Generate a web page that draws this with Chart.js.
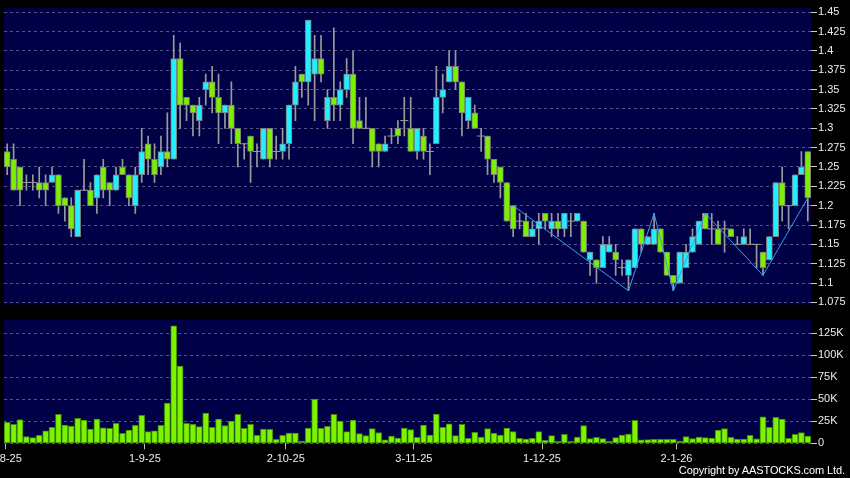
<!DOCTYPE html>
<html>
<head>
<meta charset="utf-8">
<script src="https://cdn.jsdelivr.net/npm/chart.js@4.4.1/dist/chart.umd.min.js"></script>
<style>
  html, body { margin: 0; padding: 0; background: #000; }
  #wrap { position: relative; width: 850px; height: 478px; overflow: hidden; background: #000; }
  #priceCanvas { position: absolute; left: 0; top: 0; }
  #volCanvas { position: absolute; left: -30px; top: 312px; }
  #copy { position: absolute; right: 5px; top: 464px; color: #fff; font: 11px "Liberation Sans", Arial, sans-serif; letter-spacing: -0.1px; white-space: nowrap; }
</style>
</head>
<body>
<div id="wrap">
  <canvas id="priceCanvas" width="850" height="312"></canvas>
  <canvas id="volCanvas" width="880" height="166"></canvas>
  <div id="copy">Copyright by AASTOCKS.com Ltd.</div>
</div>
<script>
// Trading days, Aug 2025 - Feb 2026
const dates = [
  '1-8-25','4-8-25','5-8-25','6-8-25','7-8-25','8-8-25','11-8-25','12-8-25','13-8-25','14-8-25','15-8-25',
  '18-8-25','19-8-25','20-8-25','21-8-25','22-8-25','25-8-25','26-8-25','27-8-25','28-8-25','29-8-25',
  '1-9-25','2-9-25','3-9-25','4-9-25','5-9-25','8-9-25','9-9-25','10-9-25','11-9-25','12-9-25','15-9-25',
  '16-9-25','17-9-25','18-9-25','19-9-25','22-9-25','23-9-25','24-9-25','25-9-25','26-9-25','29-9-25','30-9-25',
  '2-10-25','3-10-25','6-10-25','8-10-25','9-10-25','10-10-25','13-10-25','14-10-25','15-10-25','16-10-25',
  '17-10-25','20-10-25','21-10-25','22-10-25','23-10-25','24-10-25','27-10-25','28-10-25','30-10-25','31-10-25',
  '3-11-25','4-11-25','5-11-25','6-11-25','7-11-25','10-11-25','11-11-25','12-11-25','13-11-25','14-11-25',
  '17-11-25','18-11-25','19-11-25','20-11-25','21-11-25','24-11-25','25-11-25','26-11-25','27-11-25','28-11-25',
  '1-12-25','2-12-25','3-12-25','4-12-25','5-12-25','8-12-25','9-12-25','10-12-25','11-12-25','12-12-25',
  '15-12-25','16-12-25','17-12-25','18-12-25','19-12-25','22-12-25','23-12-25','24-12-25','29-12-25','30-12-25','31-12-25',
  '2-1-26','5-1-26','6-1-26','7-1-26','8-1-26','9-1-26','12-1-26','13-1-26','14-1-26','15-1-26','16-1-26',
  '19-1-26','20-1-26','21-1-26','22-1-26','23-1-26','26-1-26','27-1-26','28-1-26','29-1-26','30-1-26','2-2-26'
];

const open = [
  1.27,1.26,1.25,1.23,1.23,1.23,1.23,1.23,1.24,1.21,1.20,1.16,1.22,1.22,1.21,1.25,1.23,1.22,1.25,1.24,1.20,
  1.24,1.28,1.26,1.25,1.27,1.26,1.39,1.34,1.33,1.31,1.35,1.36,1.34,1.32,1.33,1.30,1.28,1.29,1.27,1.26,1.30,1.27,
  1.27,1.28,1.33,1.37,1.36,1.37,1.39,1.31,1.34,1.33,1.35,1.37,1.31,1.30,1.30,1.28,1.27,1.29,1.30,1.31,
  1.30,1.27,1.29,1.27,1.28,1.34,1.36,1.38,1.36,1.31,1.32,1.29,1.29,1.26,1.25,1.23,1.20,1.18,1.18,1.16,1.17,
  1.19,1.17,1.18,1.17,1.18,1.18,1.18,1.13,1.13,1.12,1.14,1.14,1.12,1.11,1.12,1.17,1.15,1.15,1.17,1.14,1.11,
  1.10,1.12,1.14,1.15,1.19,1.17,1.17,1.17,1.17,1.15,1.15,1.15,1.15,1.14,1.13,1.16,1.23,1.20,1.20,1.24,1.27
];
const high = [
  1.28,1.28,1.25,1.24,1.24,1.25,1.24,1.25,1.24,1.21,1.21,1.22,1.26,1.23,1.24,1.26,1.23,1.25,1.26,1.24,1.25,
  1.30,1.29,1.28,1.29,1.32,1.42,1.41,1.34,1.33,1.34,1.37,1.38,1.37,1.33,1.36,1.30,1.28,1.29,1.28,1.30,1.30,1.29,
  1.30,1.33,1.38,1.37,1.44,1.42,1.42,1.35,1.43,1.36,1.39,1.40,1.34,1.34,1.30,1.28,1.29,1.30,1.31,1.34,
  1.34,1.30,1.30,1.28,1.38,1.37,1.40,1.40,1.36,1.34,1.33,1.30,1.29,1.26,1.25,1.23,1.20,1.19,1.19,1.18,1.19,
  1.19,1.19,1.19,1.19,1.19,1.19,1.18,1.14,1.13,1.16,1.16,1.15,1.13,1.13,1.17,1.17,1.16,1.19,1.17,1.14,1.11,
  1.14,1.15,1.17,1.18,1.19,1.19,1.18,1.18,1.17,1.16,1.17,1.17,1.15,1.14,1.16,1.23,1.25,1.20,1.24,1.27,1.27
];
const low = [
  1.24,1.22,1.20,1.22,1.22,1.21,1.20,1.23,1.19,1.18,1.16,1.16,1.22,1.20,1.19,1.21,1.20,1.22,1.24,1.20,1.19,
  1.23,1.24,1.23,1.24,1.25,1.26,1.30,1.31,1.29,1.29,1.33,1.32,1.28,1.30,1.28,1.25,1.26,1.23,1.25,1.26,1.25,1.26,
  1.26,1.26,1.31,1.34,1.33,1.31,1.36,1.30,1.31,1.31,1.34,1.28,1.30,1.30,1.25,1.25,1.27,1.28,1.28,1.29,
  1.27,1.26,1.26,1.24,1.28,1.32,1.36,1.35,1.29,1.30,1.30,1.27,1.24,1.23,1.21,1.18,1.16,1.17,1.16,1.16,1.15,
  1.17,1.16,1.16,1.16,1.16,1.18,1.14,1.11,1.10,1.12,1.14,1.11,1.11,1.09,1.12,1.14,1.15,1.15,1.14,1.11,1.09,
  1.10,1.12,1.14,1.15,1.17,1.15,1.15,1.14,1.16,1.15,1.15,1.15,1.12,1.11,1.13,1.16,1.18,1.17,1.20,1.24,1.18
];
const close = [
  1.25,1.22,1.22,1.23,1.23,1.22,1.22,1.24,1.20,1.20,1.17,1.22,1.22,1.20,1.24,1.22,1.22,1.24,1.24,1.21,1.24,
  1.27,1.26,1.24,1.27,1.26,1.39,1.33,1.33,1.32,1.33,1.36,1.34,1.32,1.33,1.30,1.28,1.28,1.27,1.27,1.30,1.26,1.27,
  1.28,1.33,1.36,1.36,1.44,1.39,1.37,1.34,1.33,1.35,1.37,1.30,1.30,1.30,1.27,1.27,1.28,1.29,1.29,1.31,
  1.27,1.30,1.27,1.27,1.34,1.35,1.38,1.36,1.32,1.34,1.30,1.29,1.26,1.24,1.23,1.18,1.17,1.18,1.16,1.17,1.18,
  1.18,1.18,1.17,1.19,1.18,1.19,1.14,1.14,1.12,1.15,1.15,1.13,1.12,1.13,1.17,1.15,1.16,1.17,1.14,1.11,1.10,
  1.14,1.14,1.16,1.18,1.17,1.17,1.15,1.17,1.16,1.15,1.16,1.15,1.15,1.12,1.16,1.23,1.20,1.20,1.24,1.25,1.21
];

// volume, thousands of shares
const volume = [
  23.7,21.5,27,7.5,6.4,9,14.3,18,32.8,20.7,19.6,28.3,26.4,16.2,27.5,17.7,17,22.6,11.3,15,20.4,
  31.7,13.2,14.3,20.4,45.6,133.5,87.8,22.6,21.5,18.9,34.3,18,27.5,20,25.3,32.8,17,21.5,9,16.2,15.8,4.5,
  9,11.7,11.7,2.6,17.3,50.1,17,19.2,32.8,25.3,13.2,26.4,10.9,8.7,16.6,12.1,3.8,8.3,6,17.3,
  15.5,6.8,20.7,9.4,33.2,18,22.2,8.7,21.5,5.7,12.4,7.2,16.6,11.7,9.4,17.3,13.2,5.7,4.9,5.7,
  13.2,3.4,8.7,2.3,10.2,2.3,7.2,20,5.3,6.8,5.3,2.3,6.4,9.4,10.6,26,3.8,4.1,4.5,4.5,4.5,
  4.5,2.6,7.5,5.3,7.2,6.4,6,15,16.6,6.8,4.9,4.9,9,5,30.2,18,29.4,27.5,5.7,10.2,12.1,8.3
];

// zigzag swing points
const zigzagDates = ['25-11-25','19-12-25','29-12-25','2-1-26','9-1-26','22-1-26','2-2-26'];
const zigzagValues = [1.20, 1.09, 1.19, 1.09, 1.19, 1.11, 1.21];

// axes
const priceTicks = [1.075,1.1,1.125,1.15,1.175,1.2,1.225,1.25,1.275,1.3,1.325,1.35,1.375,1.4,1.425,1.45];
const volTicks = [0, 25000, 50000, 75000, 100000, 125000];
const monthStarts = ['1-8-25','1-9-25','2-10-25','3-11-25','1-12-25','2-1-26'];
const monthLabels = ['1-8-25','1-9-25','2-10-25','3-11-25','1-12-25','2-1-26'];

const colors = {
    up: '#22eeff',
    down: '#7cf000',
    edge: '#7d7d7d',
    wick: '#9a9a9a',
    panel: '#000046',
    grid: '#55558a',
    text: '#ececec',
    vol: '#7cf400',
    volEdge: '#3f8a00',
    zigzag: '#3a9de6'
};

Chart.defaults.font.family = '"Liberation Sans", Arial, sans-serif';
Chart.defaults.font.size = 11;
Chart.defaults.color = colors.text;

// grid lines sit just after the first trading day of each month
const gridPos = monthStarts.map(d => dates.indexOf(d) + 0.5);
// the first date label hangs off the left edge in the original
const labelPos = gridPos.map((p, i) => i === 0 ? p - 0.7 : p);

const panelBg = {
    id: 'panelBg',
    beforeDraw(chart) {
        const a = chart.chartArea;
        const c = chart.ctx;
        c.save();
        c.fillStyle = colors.panel;
        c.fillRect(a.left, a.top, a.right - a.left, a.bottom - a.top);
        c.restore();
    }
};

// vertical grid lines only
const gridAxis = {
    offset: true,
    afterBuildTicks: s => { s.ticks = gridPos.map(v => ({ value: v })); },
    afterFit: s => { s.height = 0; },
    grid: { offset: false, color: colors.grid, drawTicks: false },
    border: { display: false, dash: [3, 3] },
    ticks: { display: false }
};

// date labels with their small tick marks
const labelAxis = {
    type: 'category',
    position: 'bottom',
    offset: true,
    afterBuildTicks: s => { s.ticks = labelPos.map(v => ({ value: v })); },
    afterFit: s => { s.height = 34.7; },
    grid: { offset: false, drawOnChartArea: false, drawTicks: true, tickLength: 6, tickColor: '#bbbbbb' },
    border: { display: false },
    ticks: {
        autoSkip: false,
        maxRotation: 0,
        padding: 3,
        color: colors.text,
        callback: (v, i) => monthLabels[i]
    }
};

function rightAxis(min, max, tickValues, fmt) {
    return {
        position: 'right',
        min: min,
        max: max,
        afterBuildTicks: s => { s.ticks = tickValues.map(v => ({ value: v })); },
        afterFit: s => { s.width = 39; },
        grid: { color: colors.grid, tickLength: 6, tickColor: '#cccccc' },
        border: { display: false, dash: [3, 3] },
        ticks: { color: colors.text, padding: 1, callback: fmt }
    };
}

// Price panel
const idx = dates.map((d, i) => i);
const wicks = idx.map(i => [low[i], high[i]]);
const bodies = idx.map(i => open[i] === close[i] ? null : [open[i], close[i]]);
const bodyColors = idx.map(i => close[i] > open[i] ? colors.up : colors.down);
const doji = idx.filter(i => open[i] === close[i]).map(i => ({ x: dates[i], y: open[i] }));
const zigzag = zigzagDates.map((d, i) => ({ x: d, y: zigzagValues[i] }));

new Chart(document.getElementById('priceCanvas'), {
    type: 'bar',
    data: {
        labels: dates,
        datasets: [
            {
                type: 'line',
                label: 'ZigZag',
                data: zigzag,
                borderColor: colors.zigzag,
                borderWidth: 1,
                pointRadius: 0,
                order: 0
            },
            {
                type: 'line',
                label: 'Doji',
                data: doji,
                showLine: false,
                pointStyle: 'line',
                pointRadius: 4,
                borderColor: colors.wick,
                borderWidth: 1,
                order: 1
            },
            {
                label: 'Body',
                data: bodies,
                backgroundColor: bodyColors,
                borderColor: colors.edge,
                borderWidth: 1,
                borderSkipped: false,
                barThickness: 6,
                grouped: false,
                order: 2
            },
            {
                label: 'Wick',
                data: wicks,
                backgroundColor: colors.wick,
                borderWidth: 0,
                barThickness: 1,
                grouped: false,
                order: 3
            }
        ]
    },
    options: {
        responsive: false,
        animation: false,
        layout: { autoPadding: false, padding: { top: 6, bottom: 6, left: 4, right: 0 } },
        plugins: { legend: { display: false }, tooltip: { enabled: false } },
        scales: {
            x: gridAxis,
            y: rightAxis(1.0724, 1.456, priceTicks, v => String(+v.toFixed(3)))
        }
    },
    plugins: [panelBg]
});

// Volume panel (canvas starts 30px left of the page so the first date label is cut like the original)
new Chart(document.getElementById('volCanvas'), {
    type: 'bar',
    data: {
        labels: dates,
        datasets: [{
            label: 'Volume',
            data: volume.map(v => v * 1000),
            backgroundColor: colors.vol,
            borderColor: colors.volEdge,
            borderWidth: 1,
            borderSkipped: false,
            barThickness: 6,
            xAxisID: 'x'
        }]
    },
    options: {
        responsive: false,
        animation: false,
        layout: { autoPadding: false, padding: { top: 7, bottom: 0, left: 34, right: 0 } },
        plugins: { legend: { display: false }, tooltip: { enabled: false } },
        scales: {
            x: gridAxis,
            xl: labelAxis,
            y: rightAxis(0, 140500, volTicks, v => v === 0 ? '0' : (v / 1000) + 'K')
        }
    },
    plugins: [panelBg]
});
</script>
</body>
</html>
